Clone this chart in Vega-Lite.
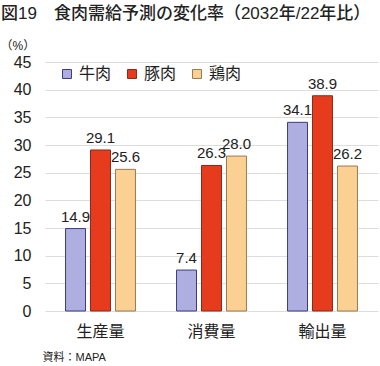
{
  "$schema": "https://vega.github.io/schema/vega-lite/v6.json",
  "width": 333,
  "height": 249,
  "autosize": {"type": "none"},
  "padding": {"left": 45, "top": 62, "right": 2, "bottom": 55},
  "background": "white",
  "config": {
    "font": "Liberation Sans, Noto Sans CJK JP",
    "view": {"stroke": null}
  },
  "title": {
    "text": "図19　食肉需給予測の変化率（2032年/22年比）",
    "anchor": "start",
    "frame": "group",
    "dx": -44,
    "dy": -12,
    "fontSize": 17,
    "fontWeight": 500,
    "color": "#222222"
  },
  "data": {
    "values": [
      {"cat": "生産量", "meat": "牛肉", "v": 14.9},
      {"cat": "生産量", "meat": "豚肉", "v": 29.1},
      {"cat": "生産量", "meat": "鶏肉", "v": 25.6},
      {"cat": "消費量", "meat": "牛肉", "v": 7.4},
      {"cat": "消費量", "meat": "豚肉", "v": 26.3},
      {"cat": "消費量", "meat": "鶏肉", "v": 28.0},
      {"cat": "輸出量", "meat": "牛肉", "v": 34.1},
      {"cat": "輸出量", "meat": "豚肉", "v": 38.9},
      {"cat": "輸出量", "meat": "鶏肉", "v": 26.2}
    ]
  },
  "encoding": {
    "x": {
      "field": "cat",
      "type": "nominal",
      "sort": ["生産量", "消費量", "輸出量"],
      "scale": {"paddingInner": 0.37, "paddingOuter": 0.185},
      "axis": {
        "title": "資料：MAPA",
        "titleAnchor": "start",
        "titleAlign": "left",
        "titleX": -3,
        "titleY": 40,
        "titleFontSize": 11,
        "titleFontWeight": "normal",
        "titleColor": "#222222",
        "labelAngle": 0,
        "labelFontSize": 16,
        "labelColor": "#222222",
        "labelPadding": 12,
        "ticks": false,
        "domain": false
      }
    },
    "xOffset": {
      "field": "meat",
      "type": "nominal",
      "sort": ["牛肉", "豚肉", "鶏肉"],
      "scale": {"paddingInner": 0.2}
    },
    "y": {
      "field": "v",
      "type": "quantitative",
      "scale": {"domain": [0, 45]},
      "axis": {
        "values": [0, 5, 10, 15, 20, 25, 30, 35, 40, 45],
        "title": "（%）",
        "titleAngle": 0,
        "titleAlign": "left",
        "titleBaseline": "middle",
        "titleX": -45,
        "titleY": -17,
        "titleFontSize": 12,
        "titleFontWeight": "normal",
        "titleColor": "#222222",
        "labelFontSize": 16,
        "labelColor": "#222222",
        "labelPadding": 14,
        "ticks": false,
        "domain": false,
        "gridColor": "#dddddd"
      }
    }
  },
  "layer": [
    {
      "mark": {"type": "bar", "strokeWidth": 1},
      "encoding": {
        "fill": {
          "field": "meat",
          "type": "nominal",
          "sort": ["牛肉", "豚肉", "鶏肉"],
          "scale": {"domain": ["牛肉", "豚肉", "鶏肉"], "range": ["#aeafe0", "#e63b1c", "#fbd193"]},
          "legend": {
            "orient": "none",
            "legendX": 14,
            "legendY": 4,
            "direction": "horizontal",
            "title": null,
            "symbolType": "square",
            "symbolSize": 80,
            "symbolStrokeWidth": 1,
            "labelFontSize": 16,
            "labelColor": "#222222",
            "columnPadding": 12,
            "labelOffset": 4
          }
        },
        "stroke": {
          "field": "meat",
          "type": "nominal",
          "scale": {"domain": ["牛肉", "豚肉", "鶏肉"], "range": ["#3b3b80", "#8a2a18", "#9a7a50"]},
          "legend": null
        }
      }
    },
    {
      "mark": {"type": "text", "dy": -12, "fontSize": 15, "color": "#222222"},
      "encoding": {
        "text": {"field": "v", "type": "quantitative", "format": ".1f"}
      }
    }
  ]
}
